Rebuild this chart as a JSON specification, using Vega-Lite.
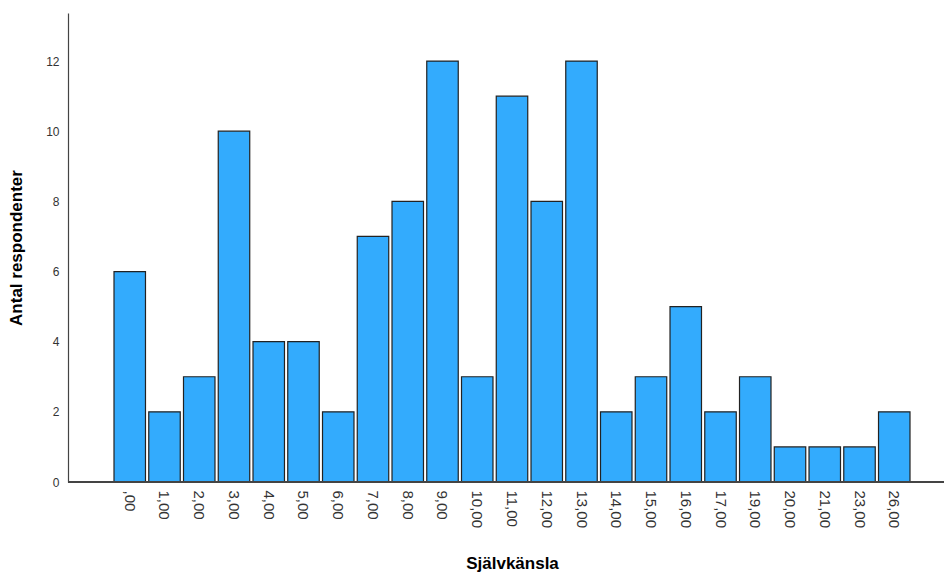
{
  "$schema": "https://vega.github.io/schema/vega-lite/v6.json",
  "autosize": {"type": "none"},
  "padding": {"left": 68, "top": 13, "right": 0, "bottom": 95},
  "width": 876,
  "height": 469,
  "background": "white",
  "data": {"values": [
    {"k": ",00", "n": 6},
    {"k": "1,00", "n": 2},
    {"k": "2,00", "n": 3},
    {"k": "3,00", "n": 10},
    {"k": "4,00", "n": 4},
    {"k": "5,00", "n": 4},
    {"k": "6,00", "n": 2},
    {"k": "7,00", "n": 7},
    {"k": "8,00", "n": 8},
    {"k": "9,00", "n": 12},
    {"k": "10,00", "n": 3},
    {"k": "11,00", "n": 11},
    {"k": "12,00", "n": 8},
    {"k": "13,00", "n": 12},
    {"k": "14,00", "n": 2},
    {"k": "15,00", "n": 3},
    {"k": "16,00", "n": 5},
    {"k": "17,00", "n": 2},
    {"k": "19,00", "n": 3},
    {"k": "20,00", "n": 1},
    {"k": "21,00", "n": 1},
    {"k": "23,00", "n": 1},
    {"k": "26,00", "n": 2}
  ]},
  "layer": [
    {
      "mark": {"type": "bar", "fill": "#33abfd", "stroke": "#222222", "strokeWidth": 1.2},
      "encoding": {
        "x": {
          "field": "k", "type": "nominal", "sort": null,
          "scale": {"range": [46, 842], "paddingInner": 0.094, "paddingOuter": 0},
          "axis": {
            "title": "Självkänsla", "titleFont": "Liberation Sans", "titleFontSize": 17, "titleFontWeight": "bold",
            "titleColor": "#000000", "titlePadding": 28,
            "labelAngle": 90, "labelAlign": "left", "labelBaseline": "middle", "labelFont": "Liberation Sans",
            "labelFontSize": 15, "labelColor": "#333333", "labelPadding": 8,
            "ticks": false, "domain": false
          }
        },
        "y": {
          "field": "n", "type": "quantitative",
          "scale": {"domain": [0, 13.37], "nice": false},
          "axis": {
            "title": "Antal respondenter", "titleFont": "Liberation Sans", "titleFontSize": 17, "titleFontWeight": "bold",
            "titleColor": "#000000", "titlePadding": 20,
            "values": [0, 2, 4, 6, 8, 10, 12], "grid": false, "ticks": false,
            "labelFont": "Liberation Sans", "labelFontSize": 12, "labelColor": "#333333", "labelPadding": 9,
            "domainColor": "#444444", "domainWidth": 1.2
          }
        }
      }
    },
    {
      "mark": {"type": "rule", "color": "#444444", "strokeWidth": 1.2},
      "encoding": {"y": {"datum": 0}}
    }
  ],
  "config": {"view": {"stroke": null}}
}
